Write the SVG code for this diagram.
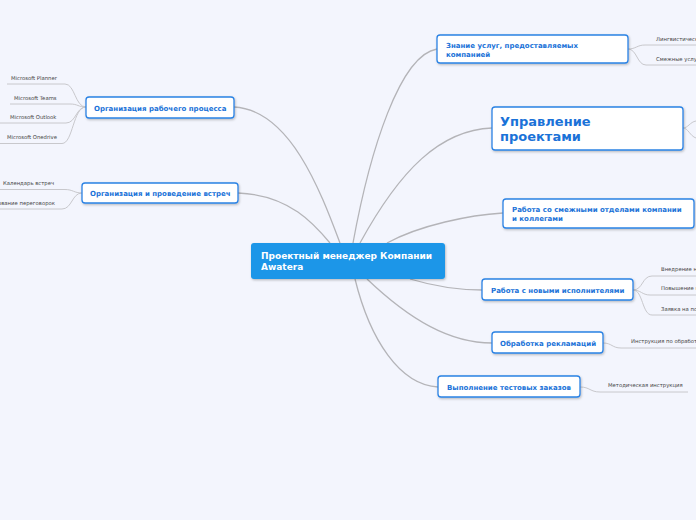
<svg xmlns="http://www.w3.org/2000/svg" width="696" height="520" viewBox="0 0 696 520">
<defs>
<filter id="sh" x="-10%" y="-20%" width="120%" height="150%">
<feDropShadow dx="0.8" dy="1.2" stdDeviation="0.8" flood-color="#000" flood-opacity="0.25"/>
</filter>
</defs>
<style>
.bg{fill:#f3f5fd}
.n{fill:#fff;stroke:#2a82e4;stroke-width:1.3;filter:url(#sh)}
.c{fill:#1a96e8;filter:url(#sh)}
.t{font-family:"DejaVu Sans",Verdana,sans-serif;font-weight:bold;fill:#1a72d8;font-size:7px}
.big{font-size:13px}
.ct{font-family:"DejaVu Sans",Verdana,sans-serif;font-weight:bold;fill:#fff;font-size:9px}
.l{font-family:"DejaVu Sans",Verdana,sans-serif;fill:#444;font-size:5.3px}
.e{fill:none;stroke:#b4b4b8;stroke-width:1.3}
.le{fill:none;stroke:#c8c8cc;stroke-width:1}
</style>
<rect class="bg" width="696" height="520"/>
<g id="connectors">
<path class="e" d="M234,107 C290,110 320,190 340,243"/>
<path class="e" d="M238,193 C290,195 315,225 330,243"/>
<path class="e" d="M353,243 C370,150 400,55 437,49"/>
<path class="e" d="M360,243 C400,170 440,130 492,128"/>
<path class="e" d="M387,243 C420,225 470,215 503,213"/>
<path class="e" d="M410,279 C440,288 460,290 482,290"/>
<path class="e" d="M367,279 C410,320 450,343 492,343"/>
<path class="e" d="M355,279 C370,340 400,385 438,387"/>
<path class="le" d="M86,107 C75,107 75,84 65,84 L7,84"/>
<path class="le" d="M86,107 C78,107 78,104 70,104 L10,104"/>
<path class="le" d="M86,107 C76,107 76,123 66,123 L0,123"/>
<path class="le" d="M86,107 C73,107 73,143.5 62,143.5 L0,143.5"/>
<path class="le" d="M82,193 C74,193 73,189.5 65,189.5 L0,189.5"/>
<path class="le" d="M82,193 C72,193 72,209 62,209 L0,209"/>
<path class="le" d="M628,49 C636,49 637,45 645,45 L696,45"/>
<path class="le" d="M628,49 C637,49 637,65 646,65 L696,65"/>
<path class="le" d="M683,128 C688,128 690,122 696,121"/>
<path class="le" d="M683,128 C688,128 690,136 696,138"/>
<path class="le" d="M633,290 C643,290 642,276 652,276 L696,276"/>
<path class="le" d="M633,290 C641,290 642,295 650,295 L696,295"/>
<path class="le" d="M633,290 C643,290 642,315 652,315 L696,315"/>
<path class="le" d="M603,343 C612,343 612,348 621,348 L696,348"/>
<path class="le" d="M580,387 C590,387 590,392 600,392 L688,392"/>
</g>
<g id="center">
<rect class="c" x="251" y="243" width="194" height="36" rx="3"/>
<text class="ct" x="261" y="259">Проектный менеджер Компании</text>
<text class="ct" x="261" y="270">Awatera</text>
</g>
<g id="n-znanie">
<rect class="n" x="437" y="35" width="191" height="28" rx="3"/>
<text class="t" x="446" y="48">Знание услуг, предоставляемых</text>
<text class="t" x="446" y="57">компанией</text>
</g>
<g id="n-upr">
<rect class="n" x="492" y="107" width="191" height="43" rx="3"/>
<text class="t big" x="500" y="126">Управление</text>
<text class="t big" x="500" y="141">проектами</text>
</g>
<g id="n-smezh">
<rect class="n" x="503" y="199" width="191" height="29" rx="3"/>
<text class="t" x="512" y="212">Работа со смежными отделами компании</text>
<text class="t" x="512" y="221">и коллегами</text>
</g>
<g id="n-novye">
<rect class="n" x="482" y="279" width="151" height="21" rx="3"/>
<text class="t" x="491" y="292.5">Работа с новыми исполнителями</text>
</g>
<g id="n-rekl">
<rect class="n" x="492" y="332" width="111" height="21" rx="3"/>
<text class="t" x="500" y="345.5">Обработка рекламаций</text>
</g>
<g id="n-test">
<rect class="n" x="438" y="376" width="142" height="21" rx="3"/>
<text class="t" x="447" y="389.5">Выполнение тестовых заказов</text>
</g>
<g id="n-org">
<rect class="n" x="86" y="97" width="148" height="21" rx="3"/>
<text class="t" x="94" y="110.5">Организация рабочего процесса</text>
</g>
<g id="n-vstr">
<rect class="n" x="82" y="183" width="156" height="20" rx="3"/>
<text class="t" x="90" y="196">Организация и проведение встреч</text>
</g>
<g id="leaves">
<text class="l" x="11" y="79.5">Microsoft Planner</text>
<text class="l" x="14" y="99.5">Microsoft Teams</text>
<text class="l" x="10" y="118.5">Microsoft Outlook</text>
<text class="l" x="7" y="138.5">Microsoft Onedrive</text>
<text class="l" x="3" y="185">Календарь встреч</text>
<text class="l" x="55" y="205" text-anchor="end">Бронирование переговорок</text>
<text class="l" x="656" y="40.5">Лингвистические услуги</text>
<text class="l" x="656" y="60.5">Смежные услуги</text>
<text class="l" x="661" y="271">Внедрение новых исполнителей</text>
<text class="l" x="661" y="290">Повышение квалификации</text>
<text class="l" x="661" y="311">Заявка на поиск</text>
<text class="l" x="631" y="343">Инструкция по обработке рекламаций</text>
<text class="l" x="608" y="387">Методическая инструкция</text>
</g>
</svg>
